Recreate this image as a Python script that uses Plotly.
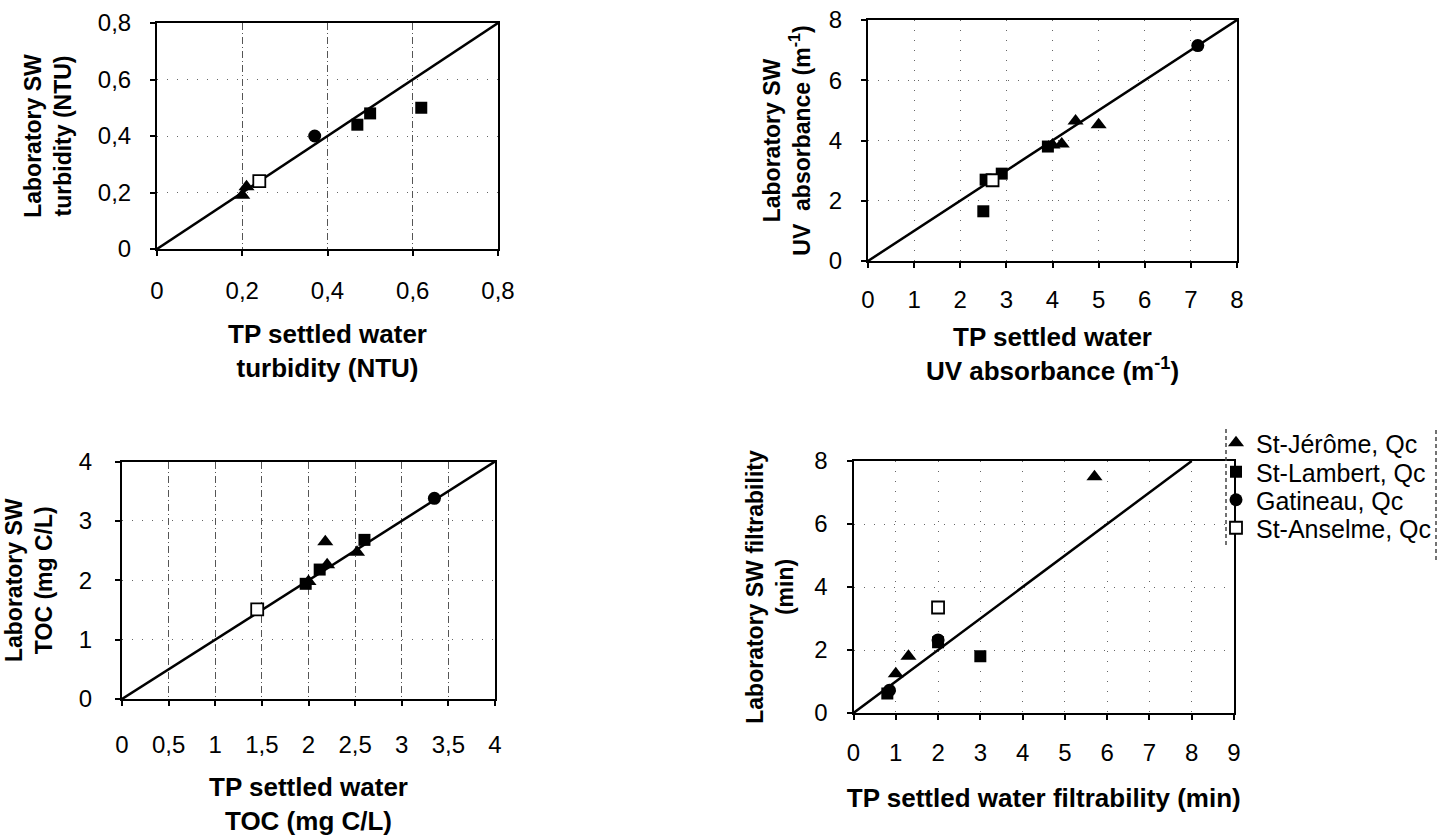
import plotly.graph_objects as go

# ---- data -------------------------------------------------------------
stations = ["St-Jérôme, Qc", "St-Lambert, Qc", "Gatineau, Qc", "St-Anselme, Qc"]

# Turbidity (NTU): TP settled water vs laboratory settled water
turb_jerome_x = [0.20, 0.21]
turb_jerome_y = [0.19, 0.22]
turb_lambert_x = [0.47, 0.50, 0.62]
turb_lambert_y = [0.44, 0.48, 0.50]
turb_gatineau_x = [0.37]
turb_gatineau_y = [0.40]
turb_anselme_x = [0.24]
turb_anselme_y = [0.24]

# UV absorbance (m-1)
uv_jerome_x = [4.5, 5.0, 4.2, 4.0]
uv_jerome_y = [4.65, 4.52, 3.88, 3.85]
uv_lambert_x = [3.9, 2.9, 2.55, 2.5]
uv_lambert_y = [3.8, 2.9, 2.7, 1.65]
uv_gatineau_x = [7.15]
uv_gatineau_y = [7.15]
uv_anselme_x = [2.7]
uv_anselme_y = [2.68]

# TOC (mg C/L)
toc_jerome_x = [2.2, 2.18, 2.52, 2.0]
toc_jerome_y = [2.26, 2.65, 2.47, 1.98]
toc_lambert_x = [1.97, 2.12, 2.6]
toc_lambert_y = [1.94, 2.18, 2.68]
toc_gatineau_x = [3.35]
toc_gatineau_y = [3.38]
toc_anselme_x = [1.45]
toc_anselme_y = [1.51]

# Filtrability (min)
filt_jerome_x = [5.7, 1.3, 1.0]
filt_jerome_y = [7.5, 1.8, 1.25]
filt_lambert_x = [3.0, 2.0, 0.8]
filt_lambert_y = [1.8, 2.25, 0.62]
filt_gatineau_x = [2.0, 0.85]
filt_gatineau_y = [2.32, 0.72]
filt_anselme_x = [2.0]
filt_anselme_y = [3.35]

# 1:1 reference lines
line_turb = [0, 0.8]
line_uv = [0, 8]
line_toc = [0, 4]
line_filt = [0, 8]

# ---- styling ----------------------------------------------------------
W, H = 1441, 836
FONT = "Liberation Sans, Arial, sans-serif"

symbols = {
    stations[0]: dict(symbol="triangle-up", size=14, color="black"),
    stations[1]: dict(symbol="square", size=12, color="black"),
    stations[2]: dict(symbol="circle", size=13, color="black"),
    stations[3]: dict(symbol="square", size=12, color="white",
                      line=dict(color="black", width=1.8)),
}
legend_ids = ["legend", "legend2", "legend3", "legend4"]


def xdom(left, right):
    return [left / W, right / W]


def ydom(top, bottom):
    return [1 - bottom / H, 1 - top / H]


fig = go.Figure()

panels = [
    ("x", "y", line_turb, [
        (turb_jerome_x, turb_jerome_y), (turb_lambert_x, turb_lambert_y),
        (turb_gatineau_x, turb_gatineau_y), (turb_anselme_x, turb_anselme_y)]),
    ("x2", "y2", line_uv, [
        (uv_jerome_x, uv_jerome_y), (uv_lambert_x, uv_lambert_y),
        (uv_gatineau_x, uv_gatineau_y), (uv_anselme_x, uv_anselme_y)]),
    ("x3", "y3", line_toc, [
        (toc_jerome_x, toc_jerome_y), (toc_lambert_x, toc_lambert_y),
        (toc_gatineau_x, toc_gatineau_y), (toc_anselme_x, toc_anselme_y)]),
    ("x4", "y4", line_filt, [
        (filt_jerome_x, filt_jerome_y), (filt_lambert_x, filt_lambert_y),
        (filt_gatineau_x, filt_gatineau_y), (filt_anselme_x, filt_anselme_y)]),
]

for pi, (xa, ya, ref, series) in enumerate(panels):
    fig.add_trace(go.Scatter(x=ref, y=ref, mode="lines", xaxis=xa, yaxis=ya,
                             line=dict(color="black", width=2.5),
                             showlegend=False, hoverinfo="skip"))
    for si, (sx, sy) in enumerate(series):
        name = stations[si]
        fig.add_trace(go.Scatter(
            x=sx, y=sy, mode="markers", xaxis=xa, yaxis=ya, name=name,
            marker=symbols[name], legendgroup=name,
            legend=legend_ids[si], showlegend=(pi == 3)))

tickfont = dict(family=FONT, size=24, color="black")
titlefont = dict(family=FONT, size=26, color="black", weight="bold")
ytitlefont = dict(family=FONT, size=23, color="black", weight="bold")

axis_common = dict(showline=True, linecolor="black", linewidth=2, mirror=True,
                   ticks="outside", ticklen=5, tickwidth=1.5, tickcolor="black",
                   zeroline=False, tickfont=tickfont, showgrid=True)

sparse_grid = dict(gridcolor="#666", gridwidth=1, griddash="1px,9px")
dash_grid = dict(gridcolor="#555", gridwidth=1, griddash="7px,3px,1px,3px")

layout_axes = dict(
    xaxis=dict(domain=xdom(157, 498), anchor="y", range=[0, 0.8], dtick=0.2,
               title=dict(text="TP settled water<br>turbidity (NTU)",
                          font=titlefont, standoff=22),
               ticklabelstandoff=14, **dash_grid, **axis_common),
    yaxis=dict(domain=ydom(23, 249), anchor="x", range=[0, 0.8], dtick=0.2,
               title=dict(text="Laboratory SW<br>turbidity (NTU)",
                          font=ytitlefont, standoff=20),
               ticklabelstandoff=14, **sparse_grid, **axis_common),
    xaxis2=dict(domain=xdom(868, 1237), anchor="y2", range=[0, 8], dtick=1,
                title=dict(text="TP settled water<br>UV absorbance (m<sup>-1</sup>)",
                           font=titlefont, standoff=16),
                ticklabelstandoff=11, **sparse_grid, **axis_common),
    yaxis2=dict(domain=ydom(20, 261), anchor="x2", range=[0, 8], dtick=2,
                title=dict(text="Laboratory SW<br>UV  absorbance (m<sup>-1</sup>)",
                           font=ytitlefont, standoff=12),
                ticklabelstandoff=14, **sparse_grid, **axis_common),
    xaxis3=dict(domain=xdom(122, 495), anchor="y3", range=[0, 4], dtick=0.5,
                title=dict(text="TP settled water<br>TOC (mg C/L)",
                           font=titlefont, standoff=28),
                ticklabelstandoff=18, **dash_grid, **axis_common),
    yaxis3=dict(domain=ydom(461.5, 699), anchor="x3", range=[0, 4], dtick=1,
                title=dict(text="Laboratory SW<br>TOC (mg C/L)",
                           font=ytitlefont, standoff=20),
                ticklabelstandoff=18, **sparse_grid, **axis_common),
    xaxis4=dict(domain=xdom(853.5, 1234), anchor="y4", range=[0, 9], dtick=1,
                title=dict(text="TP settled water filtrability (min)",
                           font=titlefont, standoff=24),
                ticklabelstandoff=12, **sparse_grid, **axis_common),
    yaxis4=dict(domain=ydom(461, 713), anchor="x4", range=[0, 8], dtick=2,
                title=dict(text="Laboratory SW filtrability<br>(min)",
                           font=ytitlefont, standoff=14),
                ticklabelstandoff=14, **sparse_grid, **axis_common),
)

legend_rows = [443, 472, 500, 528]
legend_layout = {}
for lid, row in zip(legend_ids, legend_rows):
    legend_layout[lid] = dict(x=1216 / W, xanchor="left", y=1 - row / H,
                              yanchor="middle", bgcolor="rgba(0,0,0,0)",
                              font=dict(family=FONT, size=25, color="black"),
                              itemwidth=30, borderwidth=0)

fig.update_layout(
    width=W, height=H,
    margin=dict(l=0, r=0, t=0, b=0, autoexpand=False),
    paper_bgcolor="white", plot_bgcolor="white",
    separators=", ", showlegend=True,
    shapes=[
        dict(type="line", xref="paper", yref="paper",
             x0=1226 / W, x1=1226 / W, y0=1 - 545 / H, y1=1 - 428 / H,
             line=dict(color="#444", width=1.5, dash="4px,3px")),
        dict(type="line", xref="paper", yref="paper",
             x0=1436 / W, x1=1436 / W, y0=1 - 560 / H, y1=1 - 430 / H,
             line=dict(color="#444", width=1.5, dash="4px,3px")),
    ],
    **layout_axes, **legend_layout,
)

# drop the default page margin so the figure sits flush at the top-left
fig.write_html("out.html", post_script="document.body.style.margin='0px';")
